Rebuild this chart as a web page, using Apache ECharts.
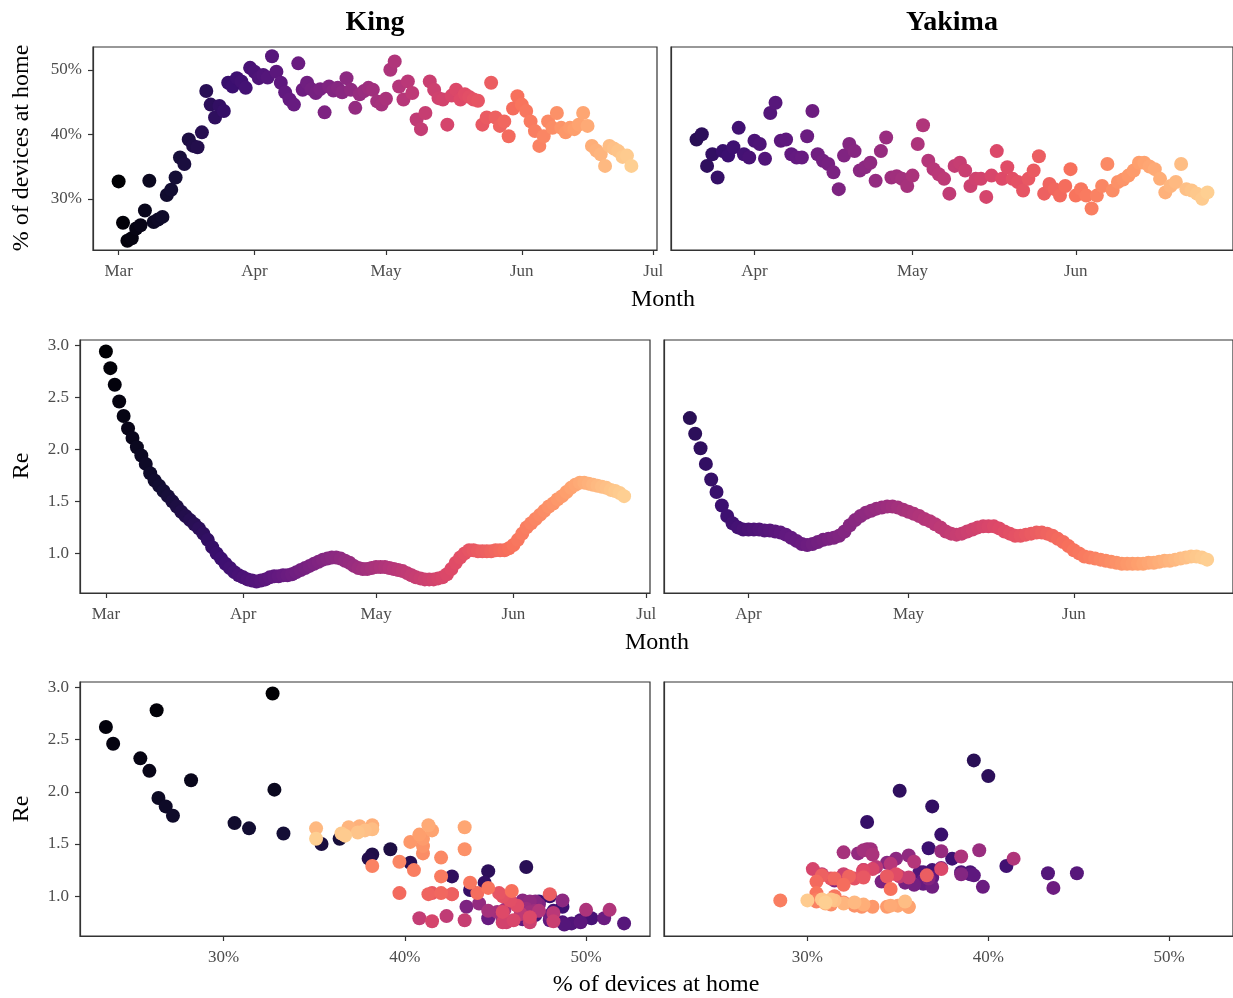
<!DOCTYPE html>
<html>
<head>
<meta charset="utf-8">
<script src="https://cdn.jsdelivr.net/npm/echarts@6.0.0/dist/echarts.min.js"></script>
<style>
html,body{margin:0;padding:0;background:#fff;}
#chart{width:1233px;height:998px;}
</style>
</head>
<body>
<div id="chart"></div>
<script>
// Days counted from 1 March (day 0). King: 1 Mar – 26 Jun; Yakima: 21 Mar – 26 Jun.
const counties = ['King', 'Yakima'];
const kingStartDay = 0;
const yakimaStartDay = 20;

const kingHome = [
  32.7, 26.3, 23.5, 23.9, 25.4, 25.9, 28.2, 32.8, 26.4, 26.8,
  27.2, 30.6, 31.4, 33.3, 36.4, 35.4, 39.2, 38.2, 38.0, 40.3,
  46.7, 44.6, 42.6, 44.4, 43.6, 48.0, 47.4, 48.7, 48.2, 47.2,
  50.3, 49.7, 48.7, 49.2, 48.8, 52.1, 49.7, 48.0, 46.5, 45.4,
  44.6, 51.0, 46.9, 48.0, 47.0, 46.4, 47.0, 43.4, 47.4, 46.8,
  47.2, 46.5, 48.7, 46.9, 44.1, 46.2, 46.7, 47.2, 46.9, 45.1,
  44.6, 45.5, 50.0, 51.3, 47.4, 45.4, 48.2, 46.4, 42.3, 40.8,
  43.3, 48.2, 46.9, 45.6, 45.4, 41.5, 46.0, 46.9, 45.4, 46.2,
  45.8, 45.4, 45.2, 41.5, 42.6, 48.0, 42.6, 41.3, 42.0, 39.7,
  44.0, 45.9, 44.6, 43.6, 42.0, 40.5, 38.2, 39.7, 42.0, 41.0,
  43.3, 41.0, 40.3, 41.0, 40.8, 41.5, 43.3, 41.3, 38.2, 37.5,
  36.9, 35.1, 38.2, 37.8, 37.4, 36.5, 36.7, 35.1
];
const kingRe = [
  2.94, 2.78, 2.62, 2.46, 2.32, 2.20, 2.11, 2.02, 1.94, 1.86,
  1.77, 1.70, 1.65, 1.60, 1.55, 1.50, 1.45, 1.40, 1.36, 1.32,
  1.28, 1.24, 1.19, 1.13, 1.06, 1.00, 0.95, 0.90, 0.86, 0.82,
  0.79, 0.77, 0.75, 0.74, 0.73, 0.74, 0.75, 0.77, 0.78, 0.78,
  0.79, 0.79, 0.80, 0.82, 0.84, 0.86, 0.88, 0.90, 0.92, 0.94,
  0.95, 0.96, 0.96, 0.95, 0.93, 0.91, 0.88, 0.86, 0.85, 0.85,
  0.86, 0.87, 0.87, 0.87, 0.86, 0.85, 0.84, 0.83, 0.81, 0.79,
  0.77, 0.76, 0.75, 0.75, 0.75, 0.76, 0.77, 0.80, 0.85, 0.91,
  0.96, 1.00, 1.03, 1.03, 1.02, 1.02, 1.02, 1.02, 1.03, 1.03,
  1.03, 1.05, 1.08, 1.13, 1.19, 1.25, 1.29, 1.33, 1.37, 1.41,
  1.45, 1.48, 1.52, 1.55, 1.59, 1.63, 1.66, 1.68, 1.68, 1.67,
  1.66, 1.65, 1.64, 1.63, 1.61, 1.60, 1.58, 1.55
];
const yakimaHome = [
  39.2, 40.0, 35.1, 36.9, 33.3, 37.4, 36.7, 38.0, 41.0, 36.9,
  36.4, 39.0, 38.5, 36.2, 43.3, 44.9, 39.0, 39.2, 36.9, 36.4,
  36.4, 39.7, 43.6, 36.9, 35.9, 35.4, 34.1, 31.5, 36.7, 38.5,
  37.4, 34.4, 34.9, 35.6, 32.8, 37.4, 39.5, 33.3, 33.5, 33.1,
  32.0, 33.6, 38.5, 41.4, 35.9, 34.6, 33.8, 33.1, 30.8, 35.1,
  35.6, 34.4, 32.0, 33.1, 33.1, 30.3, 33.6, 37.4, 33.1, 34.9,
  33.1, 32.6, 31.3, 33.1, 34.4, 36.6, 30.8, 32.3, 31.5, 30.5,
  32.0, 34.6, 30.5, 31.5, 30.5, 28.5, 30.5, 32.0, 35.4, 31.3,
  32.6, 33.0, 33.6, 34.4, 35.6, 35.6, 35.0, 34.6, 33.1, 31.0,
  32.0, 32.6, 35.4, 31.5, 31.3, 30.8, 30.0, 31.0
];
const yakimaRe = [
  2.30, 2.15, 2.01, 1.86, 1.71, 1.59, 1.46, 1.36, 1.29, 1.25,
  1.23, 1.23, 1.23, 1.23, 1.22, 1.22, 1.21, 1.20, 1.18, 1.15,
  1.12, 1.09, 1.08, 1.09, 1.11, 1.13, 1.14, 1.15, 1.17, 1.21,
  1.27, 1.32, 1.36, 1.39, 1.41, 1.43, 1.44, 1.45, 1.45, 1.44,
  1.42, 1.40, 1.38, 1.36, 1.33, 1.31, 1.28, 1.25, 1.21, 1.19,
  1.18, 1.19, 1.21, 1.23, 1.25, 1.26, 1.26, 1.26, 1.24, 1.21,
  1.19, 1.17, 1.17, 1.18, 1.19, 1.20, 1.20, 1.19, 1.17, 1.14,
  1.11, 1.07, 1.03, 1.00, 0.97, 0.96, 0.95, 0.94, 0.93, 0.92,
  0.91, 0.90, 0.90, 0.90, 0.90, 0.90, 0.91, 0.91, 0.92, 0.93,
  0.93, 0.94, 0.95, 0.96, 0.97, 0.97, 0.96, 0.94
];

const monthTickDays = [0, 31, 61, 92, 122];
const monthTickLabels = ['Mar', 'Apr', 'May', 'Jun', 'Jul'];
const homeTicks = [30, 40, 50];
const homeTickLabels = ['30%', '40%', '50%'];
const reTicks = [1.0, 1.5, 2.0, 2.5, 3.0];
const reTickLabels = ['1.0', '1.5', '2.0', '2.5', '3.0'];

// magma palette (0 .. 0.9)
const magma = ['#000004', '#140e36', '#3b0f70', '#641a80', '#8c2981', '#b73779', '#de4968', '#f7705c', '#fe9f6d', '#fecf92'];

// ---------- build ----------
const FONT = '"Liberation Serif", "DejaVu Serif", serif';
const TICK_COLOR = '#4d4d4d';
const LINE_COLOR = '#333333';

function padRange(vals) {
  const lo = Math.min(...vals), hi = Math.max(...vals), r = hi - lo;
  return [lo - 0.05 * r, hi + 0.05 * r];
}
const kingDays = kingHome.map((_, i) => kingStartDay + i);
const yakDays = yakimaHome.map((_, i) => yakimaStartDay + i);
const kingXR = padRange(kingDays);
const yakXR = padRange(yakDays);
const homeR = padRange(kingHome.concat(yakimaHome));
const reR = padRange(kingRe.concat(yakimaRe));
const lastDay = Math.max(...kingDays, ...yakDays);

const grids = [
  { left: 93, top: 47, width: 564, height: 203 },
  { left: 671, top: 47, width: 565, height: 203 },
  { left: 80, top: 340, width: 570, height: 253 },
  { left: 664, top: 340, width: 571, height: 253 },
  { left: 80, top: 682, width: 570, height: 254 },
  { left: 664, top: 682, width: 571, height: 254 }
].map(g => Object.assign({ show: true, borderColor: LINE_COLOR, borderWidth: 1.2, backgroundColor: '#fff', containLabel: false }, g));

function axisBase(gridIndex, range, ticks, labels, showLabels, margin) {
  const inRange = ticks.filter(v => v >= range[0] && v <= range[1]);
  return {
    type: 'value', gridIndex: gridIndex, min: range[0], max: range[1], scale: true,
    splitLine: { show: false },
    axisLine: { show: true, onZero: false, lineStyle: { color: LINE_COLOR, width: 1.2 } },
    axisTick: { show: showLabels, customValues: inRange, length: 5, inside: false, lineStyle: { color: LINE_COLOR, width: 1.2 } },
    axisLabel: {
      show: showLabels, customValues: inRange, margin: margin,
      formatter: v => { const k = ticks.findIndex(t => Math.abs(t - v) < 1e-6); return k >= 0 ? labels[k] : ''; },
      color: TICK_COLOR, fontFamily: FONT, fontSize: 17
    }
  };
}

const xAxes = [
  axisBase(0, kingXR, monthTickDays, monthTickLabels, true, 13),
  axisBase(1, yakXR, monthTickDays, monthTickLabels, true, 13),
  axisBase(2, kingXR, monthTickDays, monthTickLabels, true, 13),
  axisBase(3, yakXR, monthTickDays, monthTickLabels, true, 13),
  axisBase(4, homeR, homeTicks, homeTickLabels, true, 13),
  axisBase(5, homeR, homeTicks, homeTickLabels, true, 13)
];
const yAxes = [
  axisBase(0, homeR, homeTicks, homeTickLabels, true, 11),
  axisBase(1, homeR, homeTicks, homeTickLabels, false, 11),
  axisBase(2, reR, reTicks, reTickLabels, true, 11),
  axisBase(3, reR, reTicks, reTickLabels, false, 11),
  axisBase(4, reR, reTicks, reTickLabels, true, 11),
  axisBase(5, reR, reTicks, reTickLabels, false, 11)
];

function mk(idx, data) {
  return { type: 'scatter', xAxisIndex: idx, yAxisIndex: idx, data: data, symbolSize: 14, itemStyle: { opacity: 1 }, silent: true };
}
const series = [
  mk(0, kingHome.map((v, i) => [kingDays[i], v, kingDays[i]])),
  mk(1, yakimaHome.map((v, i) => [yakDays[i], v, yakDays[i]])),
  mk(2, kingRe.map((v, i) => [kingDays[i], v, kingDays[i]])),
  mk(3, yakimaRe.map((v, i) => [yakDays[i], v, yakDays[i]])),
  mk(4, kingHome.map((v, i) => [v, kingRe[i], kingDays[i]])),
  mk(5, yakimaHome.map((v, i) => [v, yakimaRe[i], yakDays[i]]))
];

function txt(x, y, text, size, opts) {
  return Object.assign({
    type: 'text', x: x, y: y, silent: true,
    style: Object.assign({ text: text, fontFamily: FONT, fontSize: size, fill: '#000', align: 'center', verticalAlign: 'middle' }, (opts && opts.style) || {})
  }, opts && opts.rotation ? { rotation: opts.rotation } : {});
}

const option = {
  animation: false,
  backgroundColor: '#fff',
  grid: grids,
  xAxis: xAxes,
  yAxis: yAxes,
  visualMap: {
    type: 'continuous', show: false, dimension: 2, min: 0, max: lastDay,
    seriesIndex: [0, 1, 2, 3, 4, 5], inRange: { color: magma }
  },
  series: series,
  graphic: [
    txt(375, 23, counties[0], 28, { style: { fontWeight: 'bold' } }),
    txt(952, 23, counties[1], 28, { style: { fontWeight: 'bold' } }),
    txt(22, 148, '% of devices at home', 24, { rotation: Math.PI / 2 }),
    txt(663, 300, 'Month', 24),
    txt(22, 466, 'Re', 24, { rotation: Math.PI / 2 }),
    txt(657, 643, 'Month', 24),
    txt(22, 809, 'Re', 24, { rotation: Math.PI / 2 }),
    txt(656, 985, '% of devices at home', 24)
  ]
};

const chart = echarts.init(document.getElementById('chart'), null, { renderer: 'canvas' });
chart.setOption(option);
</script>
</body>
</html>
